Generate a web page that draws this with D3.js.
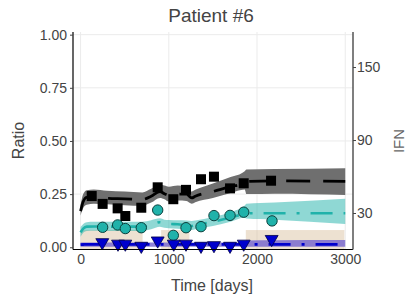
<!DOCTYPE html>
<html><head><meta charset="utf-8">
<script src="https://cdn.jsdelivr.net/npm/d3@7"></script>
<style>body{margin:0;background:#fff}svg{display:block}text{font-family:"Liberation Sans",Arial,sans-serif}</style>
</head><body><div id="c"></div>
<script>
// ---- data ----
const obsSquareT = [126,250,420,507,688,874,1051,1195,1365,1512,1694,1849,2159];
const obsSquareV = [0.241,0.204,0.183,0.147,0.186,0.282,0.226,0.270,0.320,0.332,0.277,0.301,0.313];
const obsCircleT = [250,420,507,688,874,1051,1195,1365,1512,1694,1849,2170];
const obsCircleV = [0.094,0.105,0.088,0.092,0.175,0.056,0.092,0.097,0.149,0.150,0.165,0.124];
const obsTriT = [246,424,507,688,874,1056,1195,1365,1512,1694,1849,2166];
const obsTriV = [0.023,0.016,0.016,0.006,0.031,0.016,0.016,0.006,0.009,0.006,0.016,0.038];

const modelT     = [0,30,70,150,300,500,700,800,900,950,1000,1100,1200,1260,1300,1500,1700,1860,1880,2200,3000];
const blackMean  = [0.170,0.215,0.235,0.235,0.230,0.228,0.225,0.240,0.262,0.252,0.245,0.250,0.250,0.232,0.240,0.262,0.285,0.302,0.310,0.312,0.310];
const blackLo    = [0.150,0.185,0.200,0.205,0.202,0.198,0.195,0.210,0.232,0.226,0.215,0.220,0.218,0.205,0.212,0.232,0.255,0.272,0.250,0.252,0.246];
const blackHi    = [0.200,0.250,0.268,0.272,0.266,0.262,0.258,0.275,0.295,0.290,0.285,0.290,0.285,0.262,0.270,0.300,0.330,0.358,0.366,0.368,0.372];
const tealMean   = [0.070,0.088,0.097,0.098,0.097,0.097,0.097,0.105,0.118,0.112,0.110,0.108,0.105,0.100,0.104,0.120,0.140,0.158,0.160,0.160,0.160];
const tealLo     = [0.050,0.068,0.077,0.078,0.077,0.077,0.077,0.085,0.097,0.092,0.089,0.087,0.084,0.081,0.085,0.100,0.120,0.140,0.135,0.130,0.110];
const tealHi     = [0.095,0.110,0.118,0.120,0.120,0.120,0.120,0.127,0.136,0.130,0.128,0.127,0.126,0.124,0.126,0.142,0.165,0.196,0.205,0.210,0.228];
const blueMean   = [0.012,0.013,0.014,0.014,0.014,0.014,0.014,0.014,0.014,0.014,0.014,0.014,0.014,0.014,0.014,0.014,0.014,0.014,0.014,0.014,0.014];
const blueLo     = [0.003,0.003,0.003,0.003,0.003,0.003,0.003,0.003,0.003,0.003,0.003,0.003,0.003,0.003,0.003,0.003,0.003,0.003,0.003,0.003,0.003];
const blueHi     = [0.022,0.023,0.023,0.023,0.023,0.023,0.023,0.023,0.023,0.023,0.023,0.023,0.023,0.023,0.023,0.023,0.023,0.024,0.032,0.033,0.034];

const ifnStart = [0,913,1873];
const ifnEnd   = [703,1234,2990];
const ifnDose  = [16,16,16];

const xTicks = [0,1000,2000,3000];
const yTicks = [0,0.25,0.5,0.75,1.0];
const y2Ticks = [30,90,150];

// ---- layout ----
const W=420,H=300;
const L=73,R=353,T=32,B=249.5;
const x = d3.scaleLinear().domain([-86,3088]).range([L,R]);
const y = d3.scaleLinear().domain([-0.0105,1.0125]).range([B,T]);
const y2 = d3.scaleLinear().domain([0,178.8]).range([B,T]);

const svg = d3.select("#c").append("svg").attr("width",W).attr("height",H);

// grid
const g = svg.append("g");
g.selectAll(".gx").data(xTicks).join("line").attr("x1",d=>x(d)).attr("x2",d=>x(d)).attr("y1",T).attr("y2",B).attr("stroke","#ebebeb").attr("stroke-width",1);
g.selectAll(".gy").data(yTicks.slice(1)).join("line").attr("y1",d=>y(d)).attr("y2",d=>y(d)).attr("x1",L).attr("x2",R).attr("stroke","#ebebeb").attr("stroke-width",1);

// IFN bars
svg.append("g").selectAll("rect").data(ifnStart.map((s,i)=>({s,e:ifnEnd[i],v:ifnDose[i]}))).join("rect")
  .attr("x",d=>x(d.s)).attr("width",d=>x(d.e)-x(d.s)).attr("y",d=>y2(d.v)).attr("height",d=>y2(0)-y2(d.v))
  .attr("fill","#d2b48c").attr("fill-opacity",0.4);

const series = [
  {mean:blackMean,lo:blackLo,hi:blackHi,band:"#6f6f6f",bandOp:1,line:"#000",dash:"24,13",lw:2.8},
  {mean:tealMean,lo:tealLo,hi:tealHi,band:"#20b2aa",bandOp:0.5,line:"#20b2aa",dash:"22,11,3,11",lw:2.6},
  {mean:blueMean,lo:blueLo,hi:blueHi,band:"#6a5acd",bandOp:0.75,line:"#0000cd",dash:"22,11,3,11",lw:2.8}
];
const area = d3.area().x(d=>x(d.t)).y0(d=>y(d.lo)).y1(d=>y(d.hi)).curve(d3.curveMonotoneX);
const line = d3.line().x(d=>x(d.t)).y(d=>y(d.m)).curve(d3.curveMonotoneX);
series.forEach(s=>{
  const pts = modelT.map((t,i)=>({t,m:s.mean[i],lo:s.lo[i],hi:s.hi[i]}));
  svg.append("path").datum(pts).attr("d",area).attr("fill",s.band).attr("fill-opacity",s.bandOp);
});
series.forEach(s=>{
  const pts = modelT.map((t,i)=>({t,m:s.mean[i]}));
  svg.append("path").datum(pts).attr("d",line).attr("fill","none").attr("stroke",s.line).attr("stroke-width",s.lw).attr("stroke-dasharray",s.dash);
});

// markers
svg.append("g").selectAll("rect").data(obsSquareT.map((t,i)=>({t,v:obsSquareV[i]}))).join("rect")
  .attr("x",d=>x(d.t)-5).attr("y",d=>y(d.v)-5).attr("width",10).attr("height",10).attr("fill","#000");
svg.append("g").selectAll("circle").data(obsCircleT.map((t,i)=>({t,v:obsCircleV[i]}))).join("circle")
  .attr("cx",d=>x(d.t)).attr("cy",d=>y(d.v)).attr("r",5.2).attr("fill","#20b2aa").attr("stroke","#0b3f3c").attr("stroke-width",1);
const tri = d3.symbol().type(d3.symbolTriangle).size(72);
svg.append("g").selectAll("path").data(obsTriT.map((t,i)=>({t,v:obsTriV[i]}))).join("path")
  .attr("d",tri).attr("transform",d=>`translate(${x(d.t)},${y(d.v)}) rotate(180)`).attr("fill","#0000cd").attr("stroke","#00004a").attr("stroke-width",0.8);

// spines
svg.append("line").attr("x1",L).attr("x2",L).attr("y1",T).attr("y2",B).attr("stroke","#000").attr("stroke-width",1.2);
svg.append("line").attr("x1",L).attr("x2",R).attr("y1",B).attr("y2",B).attr("stroke","#000").attr("stroke-width",1.2);
svg.append("line").attr("x1",R).attr("x2",R).attr("y1",T).attr("y2",B).attr("stroke","#555").attr("stroke-width",1.5);

// axes
const tc = "#444";
const axL = svg.append("g").attr("transform",`translate(${L},0)`).call(d3.axisLeft(y).tickValues(yTicks).tickFormat(d3.format(".2f")).tickSize(3).tickPadding(3));
const axB = svg.append("g").attr("transform",`translate(0,${B})`).call(d3.axisBottom(x).tickValues(xTicks).tickFormat(d3.format("d")).tickSize(0).tickPadding(5));
const axR = svg.append("g").attr("transform",`translate(${R},0)`).call(d3.axisRight(y2).tickValues(y2Ticks).tickSize(3).tickPadding(1));
[axL,axB,axR].forEach(a=>{a.select(".domain").remove();a.selectAll("text").attr("font-size",14).attr("fill",tc).attr("font-family","Liberation Sans, Arial, sans-serif");a.selectAll("line").attr("stroke","#444");});

// labels
svg.append("text").attr("x",211).attr("y",22).attr("text-anchor","middle").attr("font-size",19).attr("fill","#444").text("Patient #6");
svg.append("text").attr("x",212).attr("y",291).attr("text-anchor","middle").attr("font-size",16).attr("fill","#444").text("Time [days]");
svg.append("text").attr("transform","translate(24,140.5) rotate(-90)").attr("text-anchor","middle").attr("font-size",16).attr("fill","#444").text("Ratio");
svg.append("text").attr("transform","translate(404,141) rotate(-90)").attr("text-anchor","middle").attr("font-size",15).attr("fill","#666").text("IFN");
</script></body></html>
